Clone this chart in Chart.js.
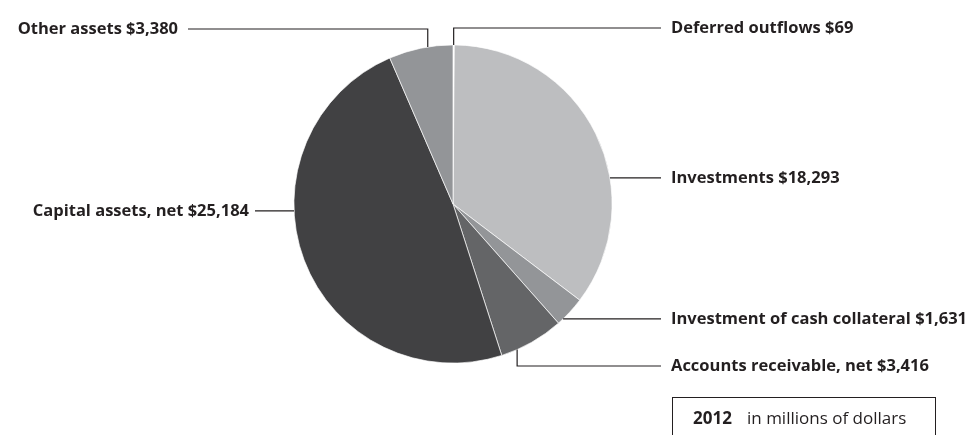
<!DOCTYPE html>
<html>
<head>
<meta charset="utf-8">
<script src="https://cdn.jsdelivr.net/npm/chart.js@4"></script>
<style>
  html, body { margin: 0; padding: 0; background: #ffffff; }
  #wrap { position: relative; width: 980px; height: 435px; overflow: hidden; }
  canvas { display: block; }
</style>
</head>
<body>
<div id="wrap"><canvas id="c" width="980" height="435"></canvas></div>
<script>
// ---- data ----
const categories = [
  "Deferred outflows",
  "Investments",
  "Investment of cash collateral",
  "Accounts receivable, net",
  "Capital assets, net",
  "Other assets"
];
const values = [69, 18293, 1631, 3416, 25184, 3380];
const yearLabel = "2012";
const unitLabel = "in millions of dollars";

// ---- styles / layout ----
const colors = ["#ffffff", "#bdbec0", "#939598", "#646567", "#414143", "#939598"];
const INK = "#231f20";
// leader layout: t = fraction along slice for anchor; type of elbow; line target
const leaders = [
  { t: 0.5,  type: "up",   lineY: 28,  endX: 661, labelX: 671, align: "left" },
  { t: 0.632,type: "side",              endX: 661, labelX: 671, align: "left" },
  { t: 0.8,  type: "side",              endX: 661, labelX: 671, align: "left" },
  { t: 0.75, type: "down", lineY: 366, endX: 661, labelX: 671, align: "left" },
  { t: 0.604,type: "side",              endX: 255, labelX: 249, align: "right" },
  { t: 0.61, type: "up",   lineY: 29,  endX: 188, labelX: 178, align: "right" }
];
const LABEL_FONT = "bold 16.5px 'Open Sans', sans-serif";
const BOX_BOLD = "bold 17px 'Open Sans', sans-serif";
const BOX_REG = "17px 'Open Sans', sans-serif";

function fmt(v) { return "$" + v.toLocaleString("en-US"); }

const leaderPlugin = {
  id: "leaders",
  afterDraw(chart) {
    const ctx = chart.ctx;
    const meta = chart.getDatasetMeta(0);
    ctx.save();
    ctx.strokeStyle = INK;
    ctx.lineWidth = 1.2;
    ctx.fillStyle = INK;
    ctx.font = LABEL_FONT;
    ctx.textBaseline = "middle";
    meta.data.forEach((arc, i) => {
      const p = arc.getProps(["x", "y", "startAngle", "endAngle", "outerRadius"], true);
      const L = leaders[i];
      const a = p.startAngle + L.t * (p.endAngle - p.startAngle);
      const ax = p.x + p.outerRadius * Math.cos(a);
      const ay = p.y + p.outerRadius * Math.sin(a);
      let ly;
      ctx.beginPath();
      ctx.moveTo(ax, ay);
      if (L.type === "side") {
        ly = ay;
        ctx.lineTo(L.endX, ly);
      } else {
        ly = L.lineY;
        ctx.lineTo(ax, ly);
        ctx.lineTo(L.endX, ly);
      }
      ctx.stroke();
      ctx.textAlign = L.align;
      ctx.fillText(categories[i] + " " + fmt(values[i]), L.labelX, ly + 0.5);
    });
    // legend box
    ctx.lineWidth = 1;
    ctx.strokeRect(672.5, 397.5, 263, 50);
    ctx.textAlign = "left";
    ctx.font = BOX_BOLD;
    ctx.fillText(yearLabel, 693, 419);
    ctx.font = BOX_REG;
    ctx.fillText(unitLabel, 747, 419);
    ctx.restore();
  }
};

new Chart(document.getElementById("c"), {
  type: "pie",
  data: {
    labels: categories,
    datasets: [{
      data: values,
      backgroundColor: colors,
      borderColor: "rgba(255,255,255,0.85)",
      borderWidth: 0.8
    }]
  },
  options: {
    responsive: false,
    animation: false,
    layout: { padding: { top: 44.5, bottom: 71.5, left: 293.5, right: 367.5 } },
    plugins: { legend: { display: false }, tooltip: { enabled: false } }
  },
  plugins: [leaderPlugin]
});
</script>
</body>
</html>
